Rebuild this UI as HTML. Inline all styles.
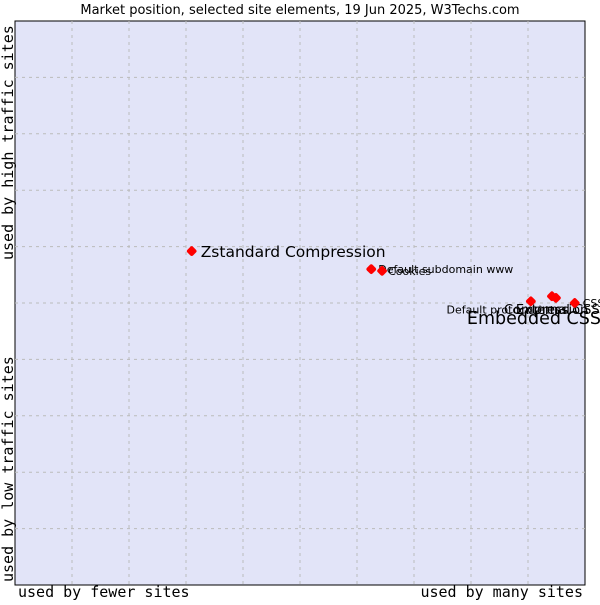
<!DOCTYPE html>
<html><head><meta charset="utf-8"><style>
body{margin:0;background:#fff;width:600px;height:600px;overflow:hidden}
text{font-family:"DejaVu Sans",sans-serif}
.mono{font-family:"DejaVu Sans Mono","Liberation Mono",monospace}
</style></head><body>
<svg id="chart" width="600" height="600" xmlns="http://www.w3.org/2000/svg">
<text x="300" y="14" text-anchor="middle" font-size="13">Market position, selected site elements, 19 Jun 2025, W3Techs.com</text>
<rect x="15" y="21" width="570" height="564" fill="#e2e4f8" stroke="#000" stroke-width="1"/>
<g id="grid"></g>
<g id="points"></g>
<text class="mono" x="18" y="597" font-size="15">used by fewer sites</text>
<text class="mono" x="583" y="597" font-size="15" text-anchor="end">used by many sites</text>
<text class="mono" transform="translate(13,260) rotate(-90)" font-size="15">used by high traffic sites</text>
<text class="mono" transform="translate(13,582) rotate(-90)" font-size="15">used by low traffic sites</text>
</svg>
<script>
const names=["Zstandard Compression","Default subdomain www","Cookies","Default protocol https","Compression","External CSS","CSS"];
const xVals=[3.1,6.25,6.44,9.05,9.42,9.49,9.82];
const yVals=[5.92,5.6,5.57,5.03,5.12,5.09,5.0];
const NS="http://www.w3.org/2000/svg";
const X0=15,X1=585,Y0=585,Y1=21;
const sx=v=>X0+(X1-X0)*v/10, sy=v=>Y0-(Y0-Y1)*v/10;
const grid=document.getElementById('grid');
for(let i=1;i<10;i++){
  const v=document.createElementNS(NS,'line');
  
  
  v.setAttribute('x1',sx(i));v.setAttribute('x2',sx(i));v.setAttribute('y1',Y1);v.setAttribute('y2',Y0);
  v.setAttribute('stroke','#bbb');v.setAttribute('stroke-dasharray','3,4');grid.appendChild(v);
  const h=document.createElementNS(NS,'line');
  
  
  h.setAttribute('x1',X0);h.setAttribute('x2',X1);h.setAttribute('y1',sy(i));h.setAttribute('y2',sy(i));
  h.setAttribute('stroke','#bbb');h.setAttribute('stroke-dasharray','3,4');grid.appendChild(h);
}
const labelStyle=[
 {dx:9,dy:6,fs:15.5,a:"start"},
 {dx:7,dy:4,fs:11,a:"start"},
 {dx:6,dy:4,fs:11,a:"start"},
 {dx:36,dy:12,fs:11,a:"end"},
 {dx:-48,dy:18,fs:13,a:"start"},
 {dx:-40,dy:16,fs:13,a:"start"},
 {dx:8,dy:4,fs:11,a:"start"}];
const pts=document.getElementById('points');
names.forEach((n,i)=>{
  const px=sx(xVals[i]),py=sy(yVals[i]);
  const c=document.createElementNS(NS,'rect');
  
  
  c.setAttribute('x',px-4);c.setAttribute('y',py-4);c.setAttribute('width',8);c.setAttribute('height',8);c.setAttribute('rx',2);
  c.setAttribute('fill','#f00');c.setAttribute('transform',`rotate(45 ${px} ${py})`);
  pts.appendChild(c);
  const s=labelStyle[i];
  const t=document.createElementNS(NS,'text');
  
  
  t.setAttribute('x',px+s.dx);t.setAttribute('y',py+s.dy);t.setAttribute('font-size',s.fs);t.setAttribute('text-anchor',s.a);
  t.textContent=n;pts.appendChild(t);
});
const e=document.createElementNS(NS,'text');


e.setAttribute('x',601);e.setAttribute('y',324);e.setAttribute('font-size',17.5);e.setAttribute('text-anchor','end');
e.textContent="Embedded CSS";pts.appendChild(e);
</script>
</body></html>
